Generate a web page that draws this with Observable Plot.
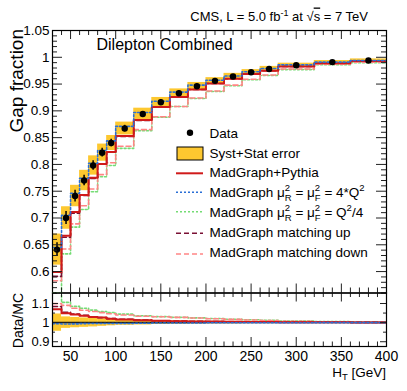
<!DOCTYPE html>
<html><head><meta charset="utf-8">
<script src="https://cdn.jsdelivr.net/npm/d3@7"></script>
<script src="https://cdn.jsdelivr.net/npm/@observablehq/plot@0.6"></script>
<style>
html,body{margin:0;padding:0;background:#fff;}
#fig{position:relative;width:407px;height:391px;overflow:hidden;background:#fff;}
#fig svg{position:absolute;left:0;}
</style></head><body><div id="fig"></div>
<script>
// ---- data ----
const binEdges = [30,40,50,60,70,80,90,100,120,140,160,180,200,220,240,260,280,320,360,400];
const dataGap = [0.641,0.700,0.741,0.770,0.798,0.822,0.840,0.867,0.894,0.916,0.933,0.946,0.956,0.964,0.972,0.978,0.985,0.991,0.994];
const totalErr = [0.029,0.021,0.020,0.019,0.018,0.016,0.014,0.012,0.011,0.009,0.008,0.007,0.006,0.006,0.005,0.005,0.004,0.003,0.003];
const statErr = [0.013,0.012,0.011,0.010,0.009,0.008,0.007,0.006,0.005,0.005,0.004,0.004,0.003,0.003,0.003,0.003,0.002,0.002,0.002];
const mgPythia = [0.599,0.667,0.711,0.743,0.775,0.801,0.823,0.853,0.883,0.907,0.926,0.940,0.951,0.960,0.969,0.975,0.983,0.989,0.993];
const mgScale4Q2 = [0.645,0.705,0.746,0.774,0.802,0.826,0.844,0.871,0.897,0.918,0.935,0.948,0.957,0.965,0.973,0.979,0.986,0.991,0.994];
const mgScaleQ2over4 = [0.553,0.633,0.683,0.716,0.749,0.777,0.798,0.830,0.863,0.888,0.908,0.923,0.936,0.947,0.958,0.966,0.977,0.986,0.990];
const mgMatchUp = [0.591,0.664,0.709,0.742,0.774,0.801,0.823,0.852,0.882,0.907,0.926,0.940,0.951,0.960,0.969,0.975,0.983,0.989,0.993];
const mgMatchDown = [0.583,0.642,0.689,0.723,0.754,0.781,0.803,0.834,0.865,0.889,0.908,0.924,0.937,0.948,0.959,0.967,0.978,0.987,0.991];
const mainYTicks = [0.6,0.65,0.7,0.75,0.8,0.85,0.9,0.95,1,1.05];
const ratioYTicks = [0.9,1,1.1];
const ratioYMinor = [0.95,1.05];
const xTicks = [50,100,150,200,250,300,350,400];

// ---- styling ----
const FONT = '"Liberation Sans", Arial, Helvetica, sans-serif';
const YELLOW = "#fdc830";
const series = [
  {vals: mgScaleQ2over4, stroke: "#74dc74", w: 1.6, dash: "2,2"},
  {vals: mgMatchDown, stroke: "#ff8585", w: 1.6, dash: "5,3"},
  {vals: mgMatchUp, stroke: "#7a1034", w: 1.6, dash: "5,3"},
  {vals: mgPythia, stroke: "#d01a1a", w: 2, dash: null},
  {vals: mgScale4Q2, stroke: "#2a6fd6", w: 1.6, dash: "2,2"}
];

const bins = dataGap.map((v, i) => ({
  lo: binEdges[i], hi: binEdges[i + 1], c: (binEdges[i] + binEdges[i + 1]) / 2,
  v, err: totalErr[i], stat: statErr[i]
}));
function steps(vals) {
  const pts = vals.map((v, i) => ({x: binEdges[i], y: v}));
  pts.push({x: binEdges[binEdges.length - 1], y: vals[vals.length - 1]});
  return pts;
}
const W = 407, ML = 52, MR = 21, innerW = W - ML - MR;
const xMinor = d3.range(40, 400, 10).filter(d => d % 50 !== 0);
const mainYMinor = d3.range(56, 106).filter(i => i % 5 !== 0).map(i => i / 100);

function frameTicks(yMaj, yMin, innerH, L) {
  const k = "#222";
  return [
    Plot.tickY(yMaj, {y: d => d, insetRight: innerW - L.yMaj, stroke: k}),
    Plot.tickY(yMin, {y: d => d, insetRight: innerW - L.yMin, stroke: k}),
    Plot.tickY(yMaj, {y: d => d, insetLeft: innerW - L.yMaj, stroke: k}),
    Plot.tickY(yMin, {y: d => d, insetLeft: innerW - L.yMin, stroke: k}),
    Plot.tickX(xTicks, {x: d => d, insetBottom: innerH - L.xMaj, stroke: k}),
    Plot.tickX(xMinor, {x: d => d, insetBottom: innerH - L.xMin, stroke: k}),
    Plot.tickX(xTicks, {x: d => d, insetTop: innerH - L.xMaj, stroke: k}),
    Plot.tickX(xMinor, {x: d => d, insetTop: innerH - L.xMin, stroke: k})
  ];
}

// ---- main panel ----
const mainH = 295, mainMT = 30, mainMB = 2.5;
const main = Plot.plot({
  width: W, height: mainH, marginLeft: ML, marginRight: MR, marginTop: mainMT, marginBottom: mainMB,
  style: {fontFamily: FONT, fontSize: "13.5px", color: "black", background: "transparent", overflow: "visible"},
  x: {domain: [30, 400], axis: null},
  y: {domain: [0.56, 1.05]},
  marks: [
    Plot.rect(bins, {x1: "lo", x2: "hi", y1: d => d.v - d.err, y2: d => d.v + d.err, fill: YELLOW}),
    ...series.map(s => Plot.line(steps(s.vals), {x: "x", y: "y", curve: "step-after", stroke: s.stroke,
      strokeWidth: s.w, strokeDasharray: s.dash, clip: true})),
    Plot.ruleX(bins, {x: "c", y1: d => d.v - d.stat, y2: d => d.v + d.stat, stroke: "black", strokeWidth: 1.5}),
    Plot.dot(bins, {x: "c", y: "v", r: 3.2, fill: "black"}),
    ...frameTicks(mainYTicks, mainYMinor, mainH - mainMT - mainMB, {yMaj: 10, yMin: 5, xMaj: 9, xMin: 5}),
    Plot.axisY(mainYTicks, {tickSize: 0, tickPadding: 3, tickFormat: d => String(d), label: null, fontSize: 13.5}),
    Plot.frame({stroke: "black", strokeWidth: 1.2})
  ]
});
main.style.top = "0px";

// ---- ratio panel ----
const rH = 101, rMT = 2.5, rMB = 45;
const ratio = Plot.plot({
  width: W, height: rH, marginLeft: ML, marginRight: MR, marginTop: rMT, marginBottom: rMB,
  style: {fontFamily: FONT, fontSize: "13.5px", color: "black", background: "transparent", overflow: "visible"},
  x: {domain: [30, 400]},
  y: {domain: [0.875, 1.155]},
  marks: [
    Plot.rect(bins, {x1: "lo", x2: "hi", y1: d => 1 - d.err / d.v, y2: d => 1 + d.err / d.v, fill: YELLOW}),
    Plot.ruleY([1], {stroke: "#222", strokeWidth: 1.5}),
    ...series.map(s => Plot.line(steps(s.vals.map((m, i) => dataGap[i] / m)), {x: "x", y: "y", curve: "step-after",
      stroke: s.stroke, strokeWidth: s.w, strokeDasharray: s.dash, clip: true})),
    ...frameTicks(ratioYTicks, ratioYMinor, rH - rMT - rMB, {yMaj: 6, yMin: 3, xMaj: 9, xMin: 4.5}),
    Plot.axisY(ratioYTicks, {tickSize: 0, tickPadding: 3, tickFormat: d => String(d), label: null, fontSize: 13}),
    Plot.axisX(xTicks, {tickSize: 0, tickPadding: 4.5, tickFormat: d => String(d), label: null, fontSize: 14}),
    Plot.frame({stroke: "black", strokeWidth: 1.2})
  ]
});
ratio.style.top = "290px";

const fig = document.getElementById("fig");
fig.appendChild(main);
fig.appendChild(ratio);

// ---- annotations: title, axis titles, legend ----
const ov = d3.create("svg").attr("width", W).attr("height", 391)
  .style("position", "absolute").style("left", "0px").style("top", "0px")
  .attr("font-family", FONT).attr("fill", "black");

const t = ov.append("text").attr("x", 368).attr("y", 20.5).attr("text-anchor", "end").attr("font-size", 13);
t.append("tspan").text("CMS, L = 5.0 fb");
t.append("tspan").attr("dy", -5).attr("font-size", 9).text("-1");
t.append("tspan").attr("dy", 5).text(" at \u221A");
t.append("tspan").attr("text-decoration", "overline").text("s");
t.append("tspan").text(" = 7 TeV");

ov.append("text").attr("transform", "translate(22.5,29) rotate(-90)").attr("text-anchor", "end")
  .attr("font-size", 19).text("Gap fraction");
ov.append("text").attr("transform", "translate(22.5,293) rotate(-90)").attr("text-anchor", "end")
  .attr("font-size", 14).text("Data/MC");
const ht = ov.append("text").attr("x", 386).attr("y", 376.5).attr("text-anchor", "end").attr("font-size", 13.5);
ht.append("tspan").text("H");
ht.append("tspan").attr("dy", 3).attr("font-size", 9.5).text("T");
ht.append("tspan").attr("dy", -3).text(" [GeV]");

ov.append("text").attr("x", 96.5).attr("y", 50).attr("font-size", 16).text("Dilepton Combined");

// legend
const LX = 209.5, LS = 13.5;
const lg = ov.append("g").attr("font-size", LS);
lg.append("circle").attr("cx", 190).attr("cy", 132.7).attr("r", 3.2).attr("fill", "black");
lg.append("text").attr("x", LX).attr("y", 137.5).text("Data");
lg.append("rect").attr("x", 177).attr("y", 147).attr("width", 26).attr("height", 13)
  .attr("fill", YELLOW).attr("stroke", "black").attr("stroke-width", 1);
lg.append("text").attr("x", LX).attr("y", 157.5).text("Syst+Stat error");

function legLine(y, s) {
  lg.append("line").attr("x1", 176).attr("x2", 203).attr("y1", y).attr("y2", y)
    .attr("stroke", s.stroke).attr("stroke-width", s.w).attr("stroke-dasharray", s.dash);
}
function muTerm(tx, sub) {
  tx.append("tspan").text("\u03BC");
  tx.append("tspan").attr("dy", -5.5).attr("font-size", 9.5).text("2");
  tx.append("tspan").attr("dx", -5.3).attr("dy", 9.5).attr("font-size", 9.5).text(sub);
  tx.append("tspan").attr("dy", -4).text(" = ");
}
const sRed = series[3], sBlue = series[4], sGreen = series[0], sUp = series[2], sDown = series[1];
legLine(173.3, sRed);
lg.append("text").attr("x", LX).attr("y", 177.2).text("MadGraph+Pythia");

legLine(192.3, sBlue);
let tx = lg.append("text").attr("x", LX).attr("y", 196.9);
tx.append("tspan").text("MadGraph ");
muTerm(tx, "R"); muTerm(tx, "F");
tx.append("tspan").text("4*Q");
tx.append("tspan").attr("dy", -5.5).attr("font-size", 9.5).text("2");

legLine(211.7, sGreen);
tx = lg.append("text").attr("x", LX).attr("y", 216.6);
tx.append("tspan").text("MadGraph ");
muTerm(tx, "R"); muTerm(tx, "F");
tx.append("tspan").text("Q");
tx.append("tspan").attr("dy", -5.5).attr("font-size", 9.5).text("2");
tx.append("tspan").attr("dy", 5.5).text("/4");

legLine(233.3, sUp);
lg.append("text").attr("x", LX).attr("y", 236.8).text("MadGraph matching up");
legLine(254, sDown);
lg.append("text").attr("x", LX).attr("y", 257).text("MadGraph matching down");

fig.appendChild(ov.node());
</script>
</body></html>
